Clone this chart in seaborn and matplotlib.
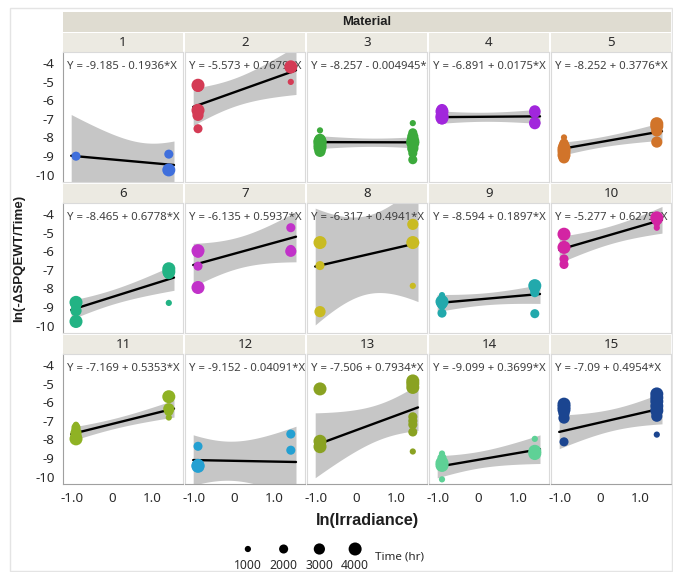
import math
import numpy as np
import pandas as pd
import matplotlib
matplotlib.use("Agg")
import matplotlib.pyplot as plt
from matplotlib.patches import Rectangle
from matplotlib.ticker import FixedLocator, MultipleLocator, FuncFormatter
import seaborn as sns

# ---- data ----
# one entry per plotted point: material, ln(irradiance), ln(-dSPQEWT/time), time (hr)
material = [
    1, 1, 1, 1,
    2, 2, 2, 2, 2, 2, 2, 2,
    3, 3, 3, 3, 3, 3, 3, 3, 3, 3, 3, 3, 3, 3, 3, 3, 3, 3, 3,
    4, 4, 4, 4, 4, 4, 4, 4, 4,
    5, 5, 5, 5, 5, 5, 5, 5, 5, 5, 5,
    6, 6, 6, 6, 6, 6, 6, 6, 6, 6, 6,
    7, 7, 7, 7, 7, 7, 7,
    8, 8, 8, 8, 8, 8,
    9, 9, 9, 9, 9, 9, 9, 9, 9, 9, 9,
    10, 10, 10, 10, 10, 10, 10, 10,
    11, 11, 11, 11, 11, 11, 11, 11, 11, 11,
    12, 12, 12, 12, 12, 12,
    13, 13, 13, 13, 13, 13, 13, 13, 13, 13, 13, 13,
    14, 14, 14, 14, 14, 14, 14, 14,
    15, 15, 15, 15, 15, 15, 15, 15, 15, 15, 15, 15, 15,
]
ln_irradiance = [
    -0.9, 1.42, 1.42, 1.42,
    -0.9, -0.9, -0.9, -0.9, -0.9, 1.42, 1.42, 1.42,
    -0.9, -0.9, -0.9, -0.9, -0.9, -0.9, -0.9, -0.9, 1.42, 1.42, 1.42, 1.42, 1.42, 1.42, 1.42, 1.42, 1.42, 1.42, 1.42,
    -0.9, -0.9, -0.9, -0.9, -0.9, 1.42, 1.42, 1.42, 1.42,
    -0.9, -0.9, -0.9, -0.9, -0.9, -0.9, -0.9, 1.42, 1.42, 1.42, 1.42,
    -0.9, -0.9, -0.9, -0.9, -0.9, -0.9, -0.9, 1.42, 1.42, 1.42, 1.42,
    -0.9, -0.9, -0.9, -0.9, 1.42, 1.42, 1.42,
    -0.9, -0.9, -0.9, 1.42, 1.42, 1.42,
    -0.9, -0.9, -0.9, -0.9, -0.9, -0.9, 1.42, 1.42, 1.42, 1.42, 1.42,
    -0.9, -0.9, -0.9, -0.9, 1.42, 1.42, 1.42, 1.42,
    -0.9, -0.9, -0.9, -0.9, -0.9, -0.9, 1.42, 1.42, 1.42, 1.42,
    -0.9, -0.9, -0.9, -0.9, 1.42, 1.42,
    -0.9, -0.9, -0.9, -0.9, 1.42, 1.42, 1.42, 1.42, 1.42, 1.42, 1.42, 1.42,
    -0.9, -0.9, -0.9, -0.9, -0.9, 1.42, 1.42, 1.42,
    -0.9, -0.9, -0.9, -0.9, -0.9, -0.9, 1.42, 1.42, 1.42, 1.42, 1.42, 1.42, 1.42,
]
ln_rate = [
    -9.01, -8.9, -9.75, -9.75,
    -5.19, -5.25, -6.54, -6.81, -7.53, -4.2, -4.25, -5.01,
    -7.62, -8.1, -8.2, -8.25, -8.35, -8.4, -8.55, -8.75, -7.23, -7.75, -7.95, -8.1, -8.2, -8.25, -8.3, -8.4, -8.6, -8.85, -9.2,
    -6.5, -6.6, -6.85, -6.95, -7.0, -6.57, -6.65, -7.2, -7.26,
    -8.0, -8.3, -8.45, -8.6, -8.75, -8.95, -9.1, -7.26, -7.4, -7.65, -8.25,
    -8.75, -8.8, -8.85, -8.95, -9.1, -9.2, -9.78, -6.94, -7.1, -7.2, -8.78,
    -5.97, -6.05, -6.8, -7.95, -4.73, -5.9, -6.0,
    -5.53, -6.77, -9.25, -4.55, -5.53, -7.86,
    -8.36, -8.6, -8.71, -8.8, -8.9, -9.33, -7.85, -7.95, -8.1, -8.23, -9.36,
    -5.08, -5.79, -6.41, -6.71, -4.2, -4.3, -4.55, -4.73,
    -7.21, -7.35, -7.48, -7.65, -7.83, -7.97, -5.7, -6.35, -6.5, -6.82,
    -8.37, -9.35, -9.4, -9.45, -7.71, -8.58,
    -5.28, -8.1, -8.25, -8.39, -4.85, -5.0, -5.2, -6.78, -7.0, -7.2, -7.6, -8.65,
    -8.76, -8.99, -9.26, -9.4, -10.15, -7.97, -8.64, -8.76,
    -6.1, -6.25, -6.4, -6.6, -6.85, -8.13, -5.55, -5.75, -5.95, -6.2, -6.45, -6.75, -7.74,
]
time_hr = [
    2000, 2000, 4000, 3000,
    4000, 3000, 4000, 3000, 2000, 4000, 3000, 1000,
    1000, 3000, 4000, 4000, 3000, 4000, 4000, 3000, 1000, 2000, 3000, 3000, 4000, 3000, 4000, 2000, 3000, 2000, 2000,
    3000, 4000, 4000, 4000, 3000, 3000, 3000, 3000, 3000,
    1000, 2000, 3000, 4000, 4000, 4000, 3000, 4000, 4000, 3000, 3000,
    4000, 3000, 3000, 2000, 2000, 3000, 4000, 4000, 4000, 3000, 1000,
    4000, 3000, 2000, 4000, 2000, 2000, 3000,
    4000, 2000, 3000, 3000, 4000, 1000,
    1000, 2000, 4000, 3000, 2000, 2000, 4000, 3000, 2000, 2000, 2000,
    4000, 4000, 2000, 2000, 4000, 3000, 1000, 1000,
    1000, 2000, 2000, 3000, 3000, 4000, 4000, 3000, 2000, 1000,
    2000, 3000, 4000, 4000, 2000, 2000,
    4000, 4000, 3000, 4000, 4000, 4000, 4000, 2000, 2000, 2000, 2000, 1000,
    1000, 2000, 4000, 4000, 1000, 1000, 4000, 4000,
    4000, 4000, 4000, 3000, 3000, 2000, 4000, 4000, 4000, 4000, 4000, 3000, 1000,
]

# fitted lines as printed in each panel
intercepts = [-9.185, -5.573, -8.257, -6.891, -8.252, -8.465, -6.135, -6.317,
              -8.594, -5.277, -7.169, -9.152, -7.506, -9.099, -7.09]
slopes = [-0.1936, 0.7679, -0.004945, 0.0175, 0.3776, 0.6778, 0.5937, 0.4941,
          0.1897, 0.6275, 0.5353, -0.04091, 0.7934, 0.3699, 0.4954]

colors = ["#3F6FDC", "#D43B55", "#3CAA3C", "#A126DC", "#D1742A",
          "#22B384", "#C132C9", "#C9BB22", "#22A9AC", "#D324A3",
          "#8FB224", "#24A0D2", "#8AA222", "#5ED196", "#1B4590"]

legend_times = [1000, 2000, 3000, 4000]

df = pd.DataFrame({"material": material, "ln_irr": ln_irradiance,
                   "ln_rate": ln_rate, "time": time_hr})


def t_quantile(dof, q=0.975):
    # student t quantile by integrating the density numerically
    grid = np.linspace(0.0, 60.0, 120001)
    logc = math.lgamma((dof + 1) / 2) - math.lgamma(dof / 2) - 0.5 * math.log(dof * math.pi)
    pdf = np.exp(logc) * (1 + grid ** 2 / dof) ** (-(dof + 1) / 2)
    cdf = 0.5 + np.concatenate([[0.0], np.cumsum((pdf[1:] + pdf[:-1]) / 2 * np.diff(grid))])
    return float(np.interp(q, cdf, grid))


sns.set_style("white")
plt.rcParams["font.family"] = ["Noto Sans", "DejaVu Sans"]
plt.rcParams["axes.unicode_minus"] = False
bold_font = ["Liberation Sans", "DejaVu Sans"]

W, H = 673, 572
fig, axes = plt.subplots(3, 5, figsize=(W / 100, H / 100), dpi=100, sharex=True, sharey=True)
fig.subplots_adjust(left=63 / W, right=671 / W, top=1 - 52 / H, bottom=1 - 484 / H,
                    wspace=2 / 120, hspace=21 / 130)

sizes = (20, 88)
band_color = "#C6C6C6"
axis_grey = "#A0A0A0"
strip_color = "#ECEAE2"

for i, ax in enumerate(axes.flat):
    m = i + 1
    sub = df[df["material"] == m]
    a, b = intercepts[i], slopes[i]
    xs = sub["ln_irr"].to_numpy()
    ys = sub["ln_rate"].to_numpy()
    n = len(xs)
    resid = ys - (a + b * xs)
    s = math.sqrt((resid ** 2).sum() / (n - 2))
    xbar = xs.mean()
    sxx = ((xs - xbar) ** 2).sum()
    xg = np.linspace(xs.min() - 0.12, xs.max() + 0.13, 80)
    fit = a + b * xg
    half = t_quantile(n - 2) * s * np.sqrt(1 / n + (xg - xbar) ** 2 / sxx)

    ax.fill_between(xg, fit - half, fit + half, color=band_color, lw=0, zorder=1)
    ax.plot(xg, fit, color="black", lw=1.7, zorder=2)
    sign = "-" if b < 0 else "+"
    ax.text(-1.12, -4.2, f"Y = {a} {sign} {abs(b)}*X", fontsize=8.15, color="#404040",
            va="center", ha="left", clip_on=True, zorder=2.5)
    sns.scatterplot(data=sub, x="ln_irr", y="ln_rate", size="time", sizes=sizes,
                    size_norm=(1000, 4000), color=colors[i], edgecolor="none",
                    linewidth=0, alpha=1, legend=False, ax=ax, zorder=3)

    ax.set_xlim(-1.225, 1.775)
    ax.set_ylim(-10.4, -3.4)
    ax.set_xlabel("")
    ax.set_ylabel("")
    ax.xaxis.set_major_locator(FixedLocator([-1, 0, 1]))
    ax.xaxis.set_minor_locator(MultipleLocator(0.2))
    ax.xaxis.set_major_formatter(FuncFormatter(lambda v, p: "0" if abs(v) < 1e-9 else f"{v:.1f}"))
    ax.yaxis.set_major_locator(MultipleLocator(1))
    ax.yaxis.set_minor_locator(MultipleLocator(0.5))
    ax.tick_params(which="both", direction="out", color=axis_grey, labelsize=9.6,
                   labelcolor="#2A2A2A", pad=2)
    ax.tick_params(which="major", length=4)
    ax.tick_params(which="minor", length=2.5)
    row, col = divmod(i, 5)
    if col > 0:
        ax.tick_params(which="both", left=False)
    if row < 2:
        ax.tick_params(which="both", bottom=False)
    for sp in ax.spines.values():
        sp.set_color("#DADADA")
        sp.set_linewidth(0.8)
    if col == 0:
        ax.spines["left"].set_color(axis_grey)
    if row == 2:
        ax.spines["bottom"].set_color(axis_grey)

    # panel strip with the material number
    ax.add_patch(Rectangle((0, 1), 1, 19 / 130, transform=ax.transAxes, clip_on=False,
                           facecolor=strip_color, edgecolor="none"))
    ax.text(0.5, 1 + 9.5 / 130, str(m), transform=ax.transAxes, ha="center", va="center",
            fontsize=9.6, color="#2A2A2A")

# top header
fig.patches.append(Rectangle((63 / W, 1 - 32 / H), 608 / W, 20 / H, transform=fig.transFigure,
                             facecolor="#DFDCD1", edgecolor="none"))
fig.text(367 / W, 1 - 22 / H, "Material", ha="center", va="center", fontsize=9.4,
         fontweight="bold", family=bold_font, color="#1E1E1E")
# outer frame
fig.patches.append(Rectangle((10 / W, 1 / H), 662 / W, 563 / H, transform=fig.transFigure,
                             facecolor="none", edgecolor="#E4E4E4", lw=1))

fig.text(19 / W, 1 - 258 / H, "ln(-ΔSPQEWT/Time)", rotation=90, ha="center", va="center",
         fontsize=9.6, fontweight="bold", family=bold_font, color="#1E1E1E")
fig.text(367 / W, 1 - 521 / H, "ln(Irradiance)", ha="center", va="center",
         fontsize=11.7, fontweight="bold", family=bold_font, color="#1E1E1E")

# size legend
lax = fig.add_axes([230 / W, 1 - 560 / H, 143 / W, 22 / H])
leg = pd.DataFrame({"pos": range(len(legend_times)), "y": [0] * len(legend_times),
                    "time": legend_times})
sns.scatterplot(data=leg, x="pos", y="y", size="time", sizes=sizes, size_norm=(1000, 4000),
                color="black", edgecolor="none", linewidth=0, legend=False, ax=lax)
lax.set_xlim(-0.5, 3.5)
lax.set_ylim(-1, 1)
lax.axis("off")
for k, t in enumerate(legend_times):
    lax.text(k, -0.95, str(t), ha="center", va="top", fontsize=8.8, color="#2A2A2A", clip_on=False)
fig.text(375 / W, 1 - 557 / H, "Time (hr)", ha="left", va="center", fontsize=8.4, color="#2A2A2A")

fig.savefig("out.png", dpi=100)
